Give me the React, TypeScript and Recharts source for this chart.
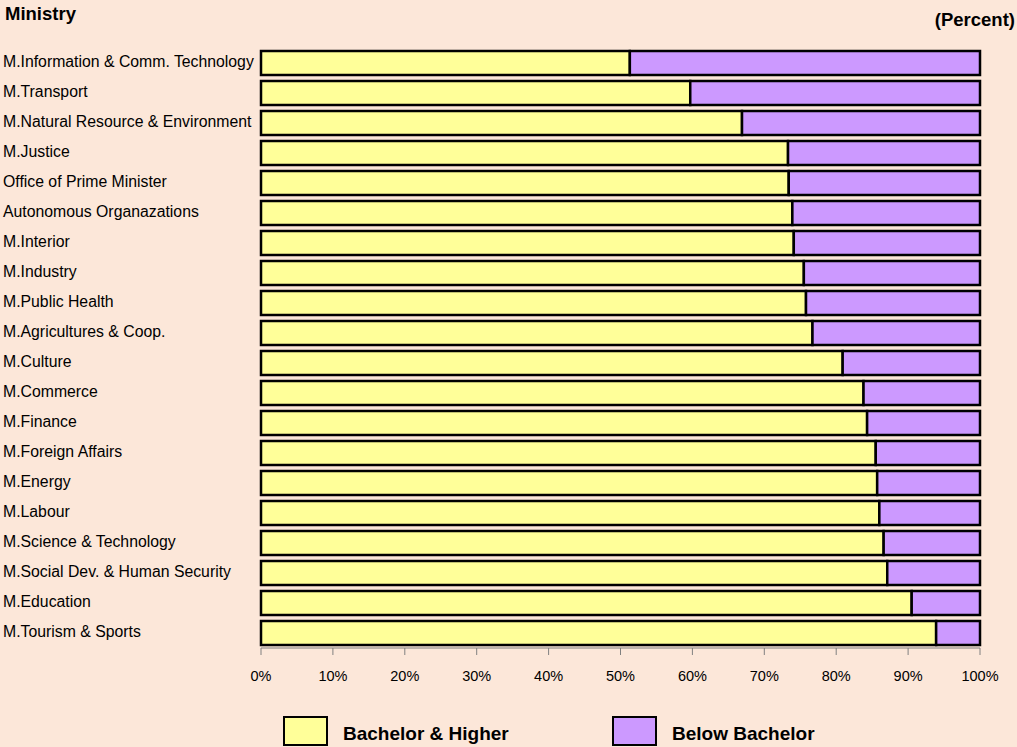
import React from 'react';
import { BarChart, Bar, XAxis, YAxis, Legend } from 'recharts';

const ministries = [
  'M.Information & Comm. Technology',
  'M.Transport',
  'M.Natural Resource & Environment',
  'M.Justice',
  'Office of Prime Minister',
  'Autonomous Organazations',
  'M.Interior',
  'M.Industry',
  'M.Public Health',
  'M.Agricultures & Coop.',
  'M.Culture',
  'M.Commerce',
  'M.Finance',
  'M.Foreign Affairs',
  'M.Energy',
  'M.Labour',
  'M.Science & Technology',
  'M.Social Dev. & Human Security',
  'M.Education',
  'M.Tourism & Sports',
];

const bachelorHigher = [51.3, 59.7, 66.9, 73.3, 73.4, 73.9, 74.1, 75.5, 75.8, 76.7, 80.9, 83.8, 84.3, 85.5, 85.7, 86.0, 86.6, 87.1, 90.5, 93.9];
const belowBachelor = [48.7, 40.3, 33.1, 26.7, 26.6, 26.1, 25.9, 24.5, 24.2, 23.3, 19.1, 16.2, 15.7, 14.5, 14.3, 14.0, 13.4, 12.9, 9.5, 6.1];

const xTicks = [0, 10, 20, 30, 40, 50, 60, 70, 80, 90, 100];

const seriesNames = ['Bachelor & Higher', 'Below Bachelor'];
const colors = ['#FFFF99', '#CC99FF'];

const data = ministries.map((name, i) => ({
  name,
  bachelor: bachelorHigher[i],
  below: belowBachelor[i],
}));

const FONT = 'Arial, "Liberation Sans", Helvetica, sans-serif';
const BG = '#FCE7D9';

const YTick = (props: any) => {
  const { y, payload } = props;
  return (
    <text x={3} y={y - 1.5} textAnchor="start" dominantBaseline="central" fontSize={15.8} fill="#000" fontFamily={FONT}>
      {payload.value}
    </text>
  );
};

const LegendContent = () => (
  <svg width={1017} height={40}>
    <rect x={284} y={2} width={43} height={28} fill={colors[0]} stroke="#000" strokeWidth={2} />
    <text x={343} y={25} fontSize={19} fontWeight="bold" fontFamily={FONT} fill="#000">{seriesNames[0]}</text>
    <rect x={613} y={2} width={43} height={28} fill={colors[1]} stroke="#000" strokeWidth={2} />
    <text x={672} y={25} fontSize={19} fontWeight="bold" fontFamily={FONT} fill="#000">{seriesNames[1]}</text>
  </svg>
);

export default function App() {
  return (
    <div style={{ position: 'absolute', left: 0, top: 0, width: 1017, height: 747, background: BG, fontFamily: FONT }}>
      <svg width={1017} height={40} style={{ position: 'absolute', left: 0, top: 0 }}>
        <text x={5} y={20} fontSize={18.5} fontWeight="bold" fontFamily={FONT} fill="#000">Ministry</text>
        <text x={1015} y={26} textAnchor="end" fontSize={18.5} fontWeight="bold" fontFamily={FONT} fill="#000">(Percent)</text>
      </svg>
      <BarChart
        width={1017}
        height={747}
        data={data}
        layout="vertical"
        margin={{ top: 48, right: 37, bottom: 29, left: 0 }}
        barCategoryGap={3}
        style={{ position: 'absolute', left: 0, top: 0 }}
      >
        <XAxis
          type="number"
          domain={[0, 100]}
          ticks={xTicks}
          tickFormatter={(v: number) => `${v}%`}
          axisLine={{ stroke: '#808080' }}
          tickLine={{ stroke: '#808080' }}
          tickSize={7}
          tickMargin={16}
          tick={{ fontSize: 14.5, fill: '#000', fontFamily: FONT }}
          height={30}
          interval={0}
        />
        <YAxis
          type="category"
          dataKey="name"
          width={261}
          axisLine={false}
          tickLine={false}
          tick={<YTick />}
          interval={0}
        />
        <Legend
          verticalAlign="bottom"
          content={<LegendContent />}
          wrapperStyle={{ position: 'absolute', left: 0, top: 715, width: 1017, height: 40 }}
        />
        <Bar dataKey="bachelor" name={seriesNames[0]} stackId="a" fill={colors[0]} stroke="#000" strokeWidth={2.5} isAnimationActive={false} />
        <Bar dataKey="below" name={seriesNames[1]} stackId="a" fill={colors[1]} stroke="#000" strokeWidth={2.5} isAnimationActive={false} />
      </BarChart>
    </div>
  );
}
